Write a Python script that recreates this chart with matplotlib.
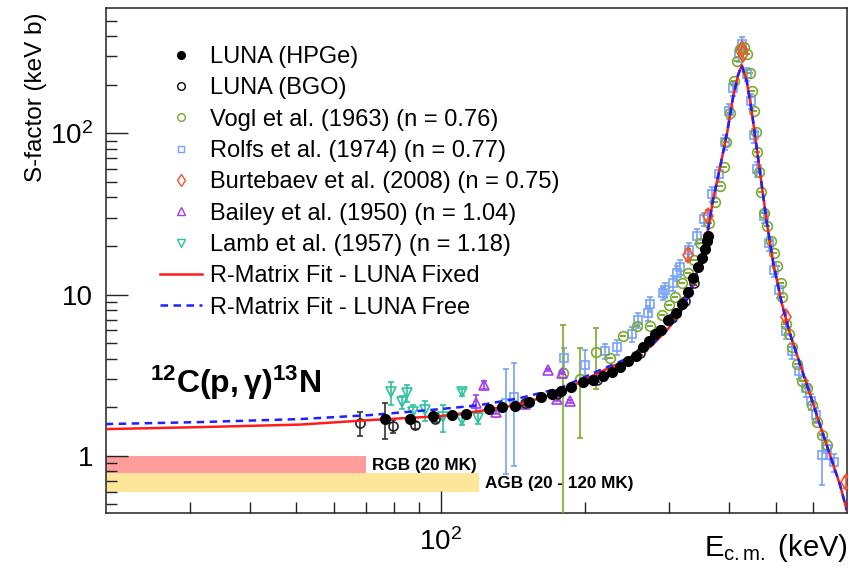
import numpy as np
import matplotlib
matplotlib.use("Agg")
import matplotlib.pyplot as plt
from matplotlib.lines import Line2D
from matplotlib.ticker import FixedLocator, FixedFormatter, NullFormatter

plt.rcParams['font.family'] = ['Liberation Sans', 'DejaVu Sans']
plt.rcParams['mathtext.fontset'] = 'custom'
plt.rcParams['mathtext.rm'] = 'Liberation Sans'
plt.rcParams['mathtext.it'] = 'Liberation Sans:italic'
plt.rcParams['mathtext.bf'] = 'Liberation Sans:bold'

# ---------------- data ----------------
# LUNA (HPGe)
hpge_E = [76.5, 86.3, 96.4, 105.6, 112.9, 126.1, 134.3, 142.9, 152.9, 162.0, 170.8, 178.3,
          187.1, 198.2, 208.0, 218.3, 227.9, 236.7, 246.0, 255.7, 264.5, 272.2, 280.2, 288.4,
          298.2, 309.9, 319.0, 328.3, 336.3, 344.5, 351.2, 356.3, 359.7, 361.4]
hpge_S = [1.69, 1.69, 1.76, 1.79, 1.81, 1.95, 2.00, 2.03, 2.15, 2.31, 2.41, 2.52,
          2.67, 2.86, 2.95, 3.12, 3.30, 3.55, 3.87, 4.15, 4.72, 5.14, 5.68, 6.02,
          6.94, 7.67, 8.72, 10.35, 12.64, 14.79, 16.82, 19.12, 21.44, 23.02]
hpge_err = [0.42, 0.06, 0.06, 0.06, 0.06, 0.06, 0.06, 0.07, 0.07, 0.07, 0.08, 0.08,
            0.08, 0.09, 0.09, 0.10, 0.10, 0.11, 0.12, 0.13, 0.14, 0.15, 0.17, 0.18,
            0.21, 0.23, 0.26, 0.31, 0.38, 0.44, 0.50, 0.57, 0.64, 0.69]

# LUNA (BGO)
bgo_E = [67.8, 79.5, 88.4, 97.3, 150.0, 174.9, 212.0, 260.7, 287.0, 304.0, 323.6, 338.0]
bgo_S = [1.60, 1.53, 1.55, 1.69, 2.12, 2.41, 2.95, 4.33, 6.02, 7.14, 9.10, 11.77]
bgo_err = [0.27, 0.14, 0.08, 0.08, 0.06, 0.07, 0.09, 0.13, 0.18, 0.21, 0.27, 0.35]

# Vogl et al. (1963)
vogl_E = [180.0, 195.3, 211.0, 225.7, 240.2, 256.9, 273.5, 289.7, 299.7, 308.4, 319.0, 328.3,
          338.0, 347.8, 363.1, 373.8, 382.9, 390.3, 394.1, 401.8, 409.6, 415.6, 421.6, 429.8,
          436.1, 442.4, 446.7, 451.0, 455.3, 457.5, 461.9, 466.4, 473.1, 480.0, 489.4, 496.4,
          503.6, 513.3, 515.8, 525.8, 533.5, 541.2, 554.4, 567.8, 581.6, 595.8, 610.3, 625.2, 640.4]
vogl_S = [3.26, 2.99, 4.39, 4.03, 5.52, 6.37, 6.37, 7.46, 8.60, 9.64, 11.77, 13.57,
          16.34, 20.83, 27.72, 37.41, 46.99, 61.63, 88.1, 133.2, 210.4, 279.9, 332.2, 341.8,
          309.4, 235.9, 182.4, 137.1, 101.6, 76.35, 57.39, 43.14, 31.96, 26.55, 21.44, 18.06,
          15.01, 11.77, 9.64, 6.56, 5.68, 4.72, 3.70, 2.91, 2.63, 2.06, 1.62, 1.34, 1.17]
vogl_err = [3.2, 1.7, 1.8] + [0.0] * 46

# Rolfs et al. (1974)
rolfs_E = [136.9, 142.2, 180.9, 200.1, 220.3, 233.4, 250.8, 258.1, 270.9, 273.5, 291.1, 294.0,
           305.5, 311.4, 315.9, 329.9, 342.8, 354.6, 368.4, 381.1, 392.2, 399.8, 407.6, 419.6,
           425.6, 436.1, 444.5, 451.0, 457.5, 473.1, 484.6, 496.4, 508.5, 525.8, 541.2, 559.8,
           578.8, 593.1, 607.4, 625.2, 640.4, 662.4]
rolfs_S = [2.12, 2.31, 4.03, 3.65, 4.46, 4.72, 5.68, 6.94, 7.67, 8.72, 10.2, 10.65,
           11.77, 13.57, 14.79, 18.85, 23.02, 29.34, 41.93, 55.77, 88.1, 137.1, 190.4, 309.4,
           356.8, 232.5, 158.1, 97.3, 59.9, 30.6, 20.8, 14.17, 10.65, 5.93, 4.46, 3.35,
           2.63, 2.18, 1.79, 1.01, 1.10, 0.91]
rolfs_err = [1.35, 1.45, 0.6, 0.9, 0.45, 0.5, 0.6, 0.7, 0.8, 0.9, 1.0, 1.1,
             1.2, 1.4, 1.5, 1.9, 2.3, 2.9, 4.2, 5.6, 8.8, 14.0, 19.0, 31.0,
             36.0, 23.0, 16.0, 9.7, 6.0, 3.0, 2.1, 1.4, 1.1, 0.6, 0.45, 0.35,
             0.3, 0.25, 0.2, 0.35, 0.15, 0.12]

# Burtebaev et al. (2008)
burt_E = [327.7, 360.9, 425.6, 427.5, 524.8, 700.0]
burt_S = [17.65, 30.67, 332.6, 309.4, 7.24, 0.684]
burt_err = [1.6, 2.6, 20.0, 20.0, 0.5, 0.05]

# Bailey et al. (1950)
bailey_E = [118.5, 123.1, 130.4, 150.0, 167.5, 174.9, 179.1, 186.2]
bailey_S = [2.12, 2.74, 1.87, 2.09, 3.40, 2.25, 3.26, 2.18]
bailey_err = [0.25, 0.15, 0.05, 0.05, 0.05, 0.05, 0.05, 0.05]

# Lamb et al. (1957)
lamb_E = [78.7, 83.0, 85.0, 87.5, 92.7, 101.1, 110.8, 110.8, 119.6]
lamb_S = [2.48, 2.15, 2.45, 1.87, 1.92, 1.74, 2.48, 1.67, 1.71]
lamb_err = [0.40, 0.20, 0.28, 0.20, 0.28, 0.33, 0.12, 0.12, 0.13]

# R-Matrix fits
fit_E = [20.0, 31.5, 50.8, 71.2, 100.0, 120.8, 146.4, 177.5, 215.0, 252.0, 273.5, 296.8,
         315.9, 331.5, 347.9, 361.4, 370.2, 383.0, 396.1, 407.7, 417.6, 425.1, 435.4, 446.0,
         456.9, 468.0, 479.4, 494.8, 515.2, 536.2, 562.5, 590.2, 619.3, 649.8, 681.9, 704.0]
fixed_S = [1.464, 1.506, 1.561, 1.665, 1.762, 1.893, 2.092, 2.482, 3.303, 4.092, 4.720, 6.017,
           7.669, 10.20, 15.65, 25.07, 38.48, 61.64, 100.1, 167.4, 229.2, 264.4, 210.4, 137.1,
           80.85, 47.67, 28.11, 15.65, 8.845, 5.683, 3.702, 2.413, 1.550, 1.010, 0.658, 0.461]
free_S = [1.573, 1.618, 1.689, 1.788, 1.948, 2.062, 2.279, 2.629, 3.399, 4.150, 4.750, 6.017,
          7.669, 10.20, 15.65, 25.07, 38.48, 61.64, 100.1, 167.4, 229.2, 264.4, 210.4, 137.1,
          80.85, 47.67, 28.11, 15.65, 8.845, 5.683, 3.702, 2.413, 1.550, 1.010, 0.658, 0.461]

# Gamow windows
rgb_E = [20, 70]
rgb_S = [0.78, 1.0]
agb_E = [20, 120]
agb_S = [0.60, 0.78]

labels = ["LUNA (HPGe)", "LUNA (BGO)", "Vogl et al. (1963) (n = 0.76)",
          "Rolfs et al. (1974) (n = 0.77)", "Burtebaev et al. (2008) (n = 0.75)",
          "Bailey et al. (1950) (n = 1.04)", "Lamb et al. (1957) (n = 1.18)",
          "R-Matrix Fit - LUNA Fixed", "R-Matrix Fit - LUNA Free"]

# ---------------- figure ----------------
fig = plt.figure(figsize=(8.49, 5.70), dpi=100)
ax = fig.add_axes([0.1245, 0.0995, 0.8728, 0.8868])
ax.set_xscale('log')
ax.set_yscale('log')
ax.set_xlim(20, 704)
ax.set_ylim(0.44, 600)

c_vogl = '#7aab2c'
c_rolfs = '#76a2f7'
c_burt = '#f4522c'
c_bailey = '#a23cf0'
c_lamb = '#2cc39c'
c_red = '#ff1c1c'
c_blue = '#1f1fff'

ax.fill_between(rgb_E, rgb_S[0], rgb_S[1], color='#ff9c9c', lw=0, zorder=1)
ax.fill_between(agb_E, agb_S[0], agb_S[1], color='#fde69a', lw=0, zorder=1)
ax.text(72, 0.876, "RGB (20 MK)", fontsize=12.3, fontweight='bold', va='center', ha='left')
ax.text(123.7, 0.677, "AGB (20 - 120 MK)", fontsize=12.3, fontweight='bold', va='center', ha='left')

eb = dict(ls='none', capsize=2.5, elinewidth=1.2, capthick=1.2, mew=1.2)
ax.errorbar(rolfs_E, rolfs_S, yerr=rolfs_err, marker='s', ms=5.5, mfc='none', mec=c_rolfs,
            ecolor=c_rolfs, color=c_rolfs, zorder=3, **eb)
ax.errorbar(vogl_E, vogl_S, yerr=vogl_err, marker='o', ms=7, mfc='none', mec=c_vogl,
            ecolor=c_vogl, color=c_vogl, zorder=3, **eb)
ax.errorbar(lamb_E, lamb_S, yerr=lamb_err, marker='v', ms=7.5, mfc='none', mec=c_lamb,
            ecolor=c_lamb, color=c_lamb, zorder=3, **eb)
ax.errorbar(bailey_E, bailey_S, yerr=bailey_err, marker='^', ms=7.5, mfc='none', mec=c_bailey,
            ecolor=c_bailey, color=c_bailey, zorder=3, **eb)
ax.errorbar(burt_E, burt_S, yerr=burt_err, marker='d', ms=8, mfc='none', mec=c_burt,
            ecolor=c_burt, color=c_burt, zorder=3, **eb)
ax.errorbar(bgo_E, bgo_S, yerr=bgo_err, marker='o', ms=6.5, mfc='none', mec='#222222',
            ecolor='#333333', color='#222222', zorder=4, **eb)

ax.plot(fit_E, fixed_S, color=c_red, lw=1.8, zorder=5)
ax.plot(fit_E, free_S, color=c_blue, lw=1.8, ls=(0, (3, 2.2)), zorder=5)

ax.errorbar(hpge_E, hpge_S, yerr=hpge_err, marker='o', ms=6.8, mfc='black', mec='black',
            ecolor='#333333', color='black', zorder=6, **eb)

fig.text(150 / 849, 1 - 383 / 570, r"$\mathbf{^{12}C(p,}$γ$\mathbf{)^{13}N}$",
         fontsize=23, fontweight='bold', va='center', ha='left')

# legend
handles = [
    Line2D([], [], ls='none', marker='o', ms=5.5, mfc='black', mec='black'),
    Line2D([], [], ls='none', marker='o', ms=5.5, mfc='none', mec='black', mew=1),
    Line2D([], [], ls='none', marker='o', ms=5.5, mfc='none', mec=c_vogl, mew=1),
    Line2D([], [], ls='none', marker='s', ms=5, mfc='none', mec=c_rolfs, mew=1),
    Line2D([], [], ls='none', marker='d', ms=6, mfc='none', mec=c_burt, mew=1),
    Line2D([], [], ls='none', marker='^', ms=6, mfc='none', mec=c_bailey, mew=1),
    Line2D([], [], ls='none', marker='v', ms=6, mfc='none', mec=c_lamb, mew=1),
    Line2D([], [], color=c_red, lw=1.8),
    Line2D([], [], color=c_blue, lw=1.8, ls=(0, (3, 2.2))),
]
leg = fig.legend(handles, labels, loc='upper left', bbox_to_anchor=(160 / 849, 1 - 46 / 570),
                 frameon=False, fontsize=17, handlelength=1.77, handletextpad=0.34,
                 labelspacing=0.395, borderpad=0, borderaxespad=0)

# axes style
for s in ['top', 'right', 'left', 'bottom']:
    ax.spines[s].set_linewidth(1.1)
    ax.spines[s].set_color('#222222')

ax.xaxis.set_major_locator(FixedLocator([100]))
ax.xaxis.set_major_formatter(FixedFormatter([r"$10^{2}$"]))
ax.xaxis.set_minor_locator(FixedLocator([30, 40, 50, 60, 70, 80, 90, 200, 300, 400, 500, 600]))
ax.xaxis.set_minor_formatter(NullFormatter())
ax.yaxis.set_major_locator(FixedLocator([1, 10, 100]))
ax.yaxis.set_major_formatter(FixedFormatter(["1", "10", r"$10^{2}$"]))
ax.yaxis.set_minor_locator(FixedLocator([0.5, 0.6, 0.7, 0.8, 0.9, 2, 3, 4, 5, 6, 7, 8, 9,
                                         20, 30, 40, 50, 60, 70, 80, 90, 200, 300, 400, 500]))
ax.yaxis.set_minor_formatter(NullFormatter())
ax.tick_params(which='both', direction='in', top=False, right=False, width=1.0, colors='#222222',
               labelsize=20, labelcolor='black')
ax.tick_params(which='major', length=15.5)
ax.tick_params(which='minor', length=8)
ax.tick_params(axis='y', pad=9)
ax.tick_params(axis='x', pad=11)

fig.text(0.0424, 1 - 12 / 570, "S-factor (keV b)", rotation=90, va='top', ha='center', fontsize=17.5)
fig.text(0.999, 1 - 548 / 570, r"E$_{\rm c.m.}$ (keV)", va='center', ha='right', fontsize=21)

fig.savefig("out.png", dpi=100)
